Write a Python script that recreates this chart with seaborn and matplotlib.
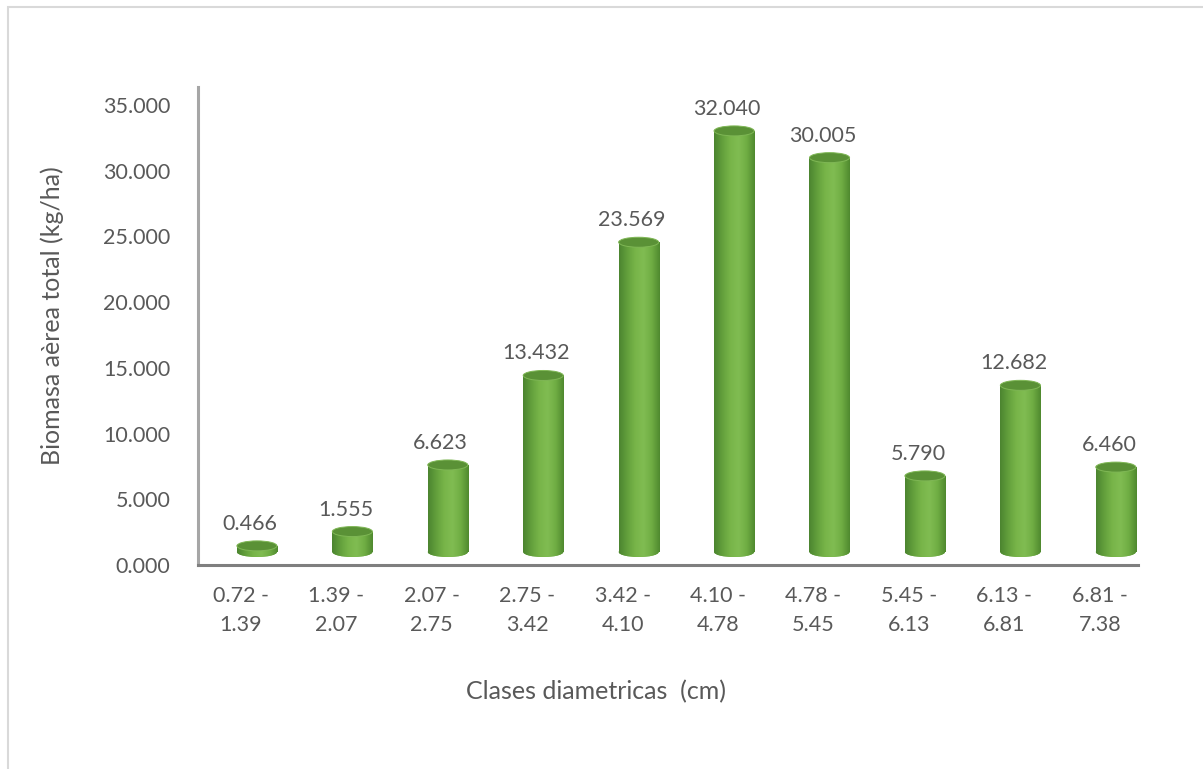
import numpy as np
import pandas as pd
import matplotlib
matplotlib.use("Agg")
import matplotlib.pyplot as plt
import seaborn as sns
from matplotlib.patches import Ellipse, Rectangle
from matplotlib.transforms import ScaledTranslation
from matplotlib.colors import LinearSegmentedColormap

# Diameter classes (cm) and total above-ground biomass per class
clases = ["0.72 -\n1.39", "1.39 -\n2.07", "2.07 -\n2.75", "2.75 -\n3.42", "3.42 -\n4.10",
          "4.10 -\n4.78", "4.78 -\n5.45", "5.45 -\n6.13", "6.13 -\n6.81", "6.81 -\n7.38"]
biomasa = [0.466, 1.555, 6.623, 13.432, 23.569, 32.040, 30.005, 5.790, 12.682, 6.460]
y_ticks = [0, 5, 10, 15, 20, 25, 30, 35]

titulo_x = "Clases diametricas  (cm)"
titulo_y = "Biomasa aèrea total (kg/ha)"

W, H, DPI = 1203, 769, 100
sns.set_theme(style="white")
plt.rcParams["font.family"] = ["Lato", "DejaVu Sans"]
gris = "#595959"
fs = 15.5
fs_title = 18

fig = plt.figure(figsize=(W / DPI, H / DPI), dpi=DPI)
ax = fig.add_axes([198 / W, (H - 565) / H, (1138 - 198) / W, (565 - 87) / H])

df = pd.DataFrame({"clase": clases, "biomasa": biomasa})
sns.barplot(data=df, x="clase", y="biomasa", width=0.42, color="#70AD47",
            saturation=1, errorbar=None, ax=ax)

ymax = 36.37
ax.set_xlim(-0.45, 9.40)
ax.set_ylim(0, ymax)

# pseudo-3D: cylinders sit slightly behind the front plane of the axes
px_per_y = (565 - 87) / ymax
ry = 5 / px_per_y
depth = ax.transData + ScaledTranslation(16 / DPI, 13 / DPI, fig.dpi_scale_trans)

cyl = LinearSegmentedColormap.from_list(
    "cyl", ["#4C8530", "#63A03C", "#78B549", "#80BC52", "#70AE44", "#508A2F"])
grad = np.linspace(0, 1, 64).reshape(1, -1)

for p in list(ax.patches):
    x0, w, h = p.get_x(), p.get_width(), p.get_height()
    xc = x0 + w / 2
    p.set_transform(depth)
    p.set_edgecolor("none")
    p.set_zorder(2)
    bottom = Ellipse((xc, 0), w, 2 * ry, transform=depth, facecolor="#70AD47",
                     edgecolor="none", zorder=2)
    ax.add_patch(bottom)
    for clip in (p, bottom):
        im = ax.imshow(grad, extent=(x0, x0 + w, -ry, h), aspect="auto", cmap=cyl,
                       transform=depth, zorder=3, interpolation="bilinear")
        im.set_clip_path(clip)
    top = Ellipse((xc, h), w, 2 * ry, transform=depth, facecolor="#5A9136",
                  edgecolor="#7FB755", linewidth=0.7, zorder=4)
    ax.add_patch(top)

ax.set_xlim(-0.45, 9.40)
ax.set_ylim(0, ymax)

# value labels
for i, v in enumerate(biomasa):
    ax.annotate(f"{v:.3f}", xy=(i, v), xytext=(9, 35), textcoords="offset pixels",
                ha="center", va="center", fontsize=fs, color=gris, zorder=6)

ax.set_yticks(y_ticks)
ax.set_yticklabels([f"{t:.3f}" for t in y_ticks])
ax.tick_params(axis="y", length=0, pad=20, labelsize=fs, labelcolor=gris)
ax.tick_params(axis="x", length=0, pad=15, labelsize=fs, labelcolor=gris)
for lab in ax.get_xticklabels():
    lab.set_linespacing(1.6)
ax.set_xlabel("")
ax.set_ylabel("")

for s in ("top", "right"):
    ax.spines[s].set_visible(False)
ax.spines["left"].set_color("#A6A6A6")
ax.spines["left"].set_linewidth(2.2)
ax.spines["bottom"].set_color("#7F7F7F")
ax.spines["bottom"].set_linewidth(2.2)
ax.spines["left"].set_zorder(5)
ax.spines["bottom"].set_zorder(5)

fig.text(596 / W, 1 - 692 / H, titulo_x, ha="center", va="center", fontsize=fs_title, color=gris)
fig.text(52 / W, 1 - 316 / H, titulo_y, ha="center", va="center", rotation=90,
         fontsize=fs_title, color=gris)

# chart area border
fig.patches.append(Rectangle((7.5 / W, -0.05), 1.1, 1.05 - 6.5 / H, transform=fig.transFigure,
                             fill=False, edgecolor="#D9D9D9", linewidth=1.5))

fig.savefig("out.png", dpi=DPI)
